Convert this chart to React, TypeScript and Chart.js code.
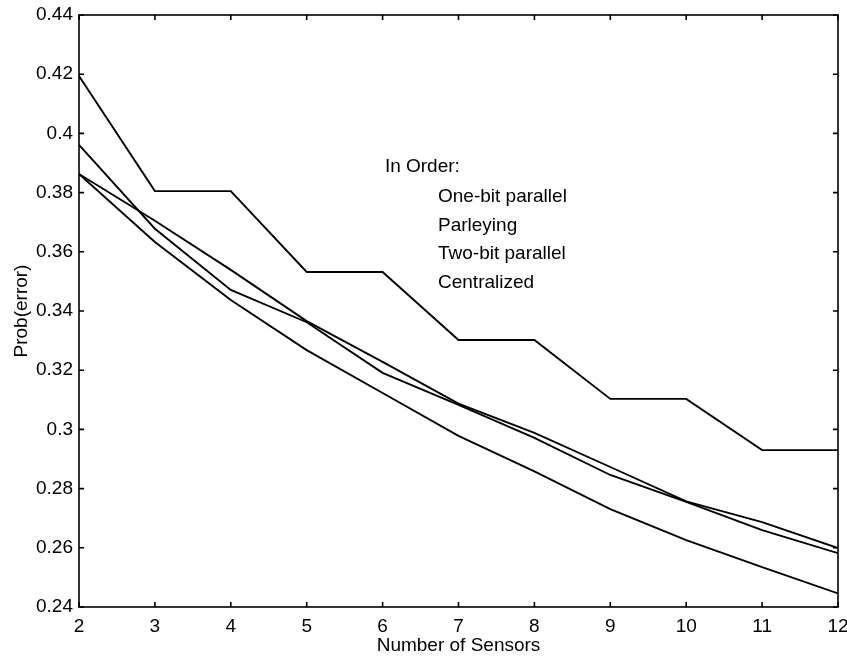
import React, { useEffect, useRef } from "react";
import { Chart, registerables } from "chart.js";

Chart.register(...registerables);

// ---- data ----
const sensors = [2, 3, 4, 5, 6, 7, 8, 9, 10, 11, 12];
const oneBitParallel = [0.4194, 0.3805, 0.3805, 0.3532, 0.3532, 0.3302, 0.3302, 0.3103, 0.3103, 0.293, 0.293];
const parleying = [0.3863, 0.3705, 0.3539, 0.3366, 0.3228, 0.3087, 0.2988, 0.2873, 0.2757, 0.2687, 0.2599];
const twoBitParallel = [0.3961, 0.3678, 0.3471, 0.3362, 0.3191, 0.3083, 0.2971, 0.2846, 0.2755, 0.266, 0.2582];
const centralized = [0.3863, 0.3633, 0.3437, 0.3268, 0.3123, 0.2978, 0.2858, 0.2731, 0.2626, 0.2535, 0.2446];

const seriesNames = ["One-bit parallel", "Parleying", "Two-bit parallel", "Centralized"];
const legendHeading = "In Order:";
const yTickValues = [0.24, 0.26, 0.28, 0.3, 0.32, 0.34, 0.36, 0.38, 0.4, 0.42, 0.44];
const xTickValues = [2, 3, 4, 5, 6, 7, 8, 9, 10, 11, 12];
const xTitle = "Number of Sensors";
const yTitle = "Prob(error)";

const FONT = '"Liberation Sans", Arial, Helvetica, sans-serif';
const FSIZE = 19;

const framePlugin = {
  id: "frameAndNotes",
  afterDraw(chart: any) {
    const { ctx, chartArea } = chart;
    const xs = chart.scales.x;
    const ys = chart.scales.y;
    const { left, right, top, bottom } = chartArea;
    ctx.save();
    ctx.strokeStyle = "#000";
    ctx.lineWidth = 1.6;
    ctx.strokeRect(left, top, right - left, bottom - top);
    const tl = 5;
    ctx.beginPath();
    ys.ticks.forEach((t: any) => {
      const py = ys.getPixelForValue(t.value);
      ctx.moveTo(left, py);
      ctx.lineTo(left + tl, py);
      ctx.moveTo(right, py);
      ctx.lineTo(right - tl, py);
    });
    xs.ticks.forEach((t: any) => {
      const px = xs.getPixelForValue(t.value);
      ctx.moveTo(px, bottom);
      ctx.lineTo(px, bottom - tl);
      ctx.moveTo(px, top);
      ctx.lineTo(px, top + tl);
    });
    ctx.stroke();

    // "In Order" note
    ctx.fillStyle = "#000";
    ctx.font = `${FSIZE}px ${FONT}`;
    ctx.textAlign = "left";
    ctx.textBaseline = "alphabetic";
    const hx = xs.getPixelForValue(6.03);
    const hy = ys.getPixelForValue(0.387);
    ctx.fillText(legendHeading, hx, hy);
    const ix = xs.getPixelForValue(6.73);
    seriesNames.forEach((name, i) => {
      ctx.fillText(name, ix, hy + 30 + i * 28.7);
    });
    ctx.restore();
  },
};

export default function App() {
  const ref = useRef<HTMLCanvasElement | null>(null);

  useEffect(() => {
    if (!ref.current) return;
    const series = [oneBitParallel, parleying, twoBitParallel, centralized];
    const chart = new Chart(ref.current, {
      type: "line",
      data: {
        datasets: series.map((vals, i) => ({
          label: seriesNames[i],
          data: sensors.map((s, j) => ({ x: s, y: vals[j] })),
          borderColor: "#000",
          backgroundColor: "#000",
          borderWidth: 1.9,
          pointRadius: 0,
          tension: 0,
          fill: false,
        })),
      },
      options: {
        responsive: false,
        animation: false,
        layout: { padding: { top: 15, right: 0, left: 0, bottom: 0 } },
        plugins: {
          legend: { display: false },
          tooltip: { enabled: false },
        },
        scales: {
          x: {
            type: "linear",
            min: 2,
            max: 12,
            afterBuildTicks: (scale: any) => {
              scale.ticks = xTickValues.map((v) => ({ value: v }));
            },
            afterFit: (scale: any) => {
              scale.height = 50;
              scale.paddingRight = 9;
              scale.paddingLeft = 0;
            },
            grid: { display: false, drawTicks: false },
            border: { display: false },
            ticks: {
              color: "#000",
              padding: 8,
              maxRotation: 0,
              font: { family: FONT, size: FSIZE },
              callback: (v: any) => String(v),
            },
            title: {
              display: true,
              text: xTitle,
              color: "#000",
              font: { family: FONT, size: FSIZE },
              padding: { top: 0, bottom: 0 },
            },
          },
          y: {
            type: "linear",
            min: 0.24,
            max: 0.44,
            afterBuildTicks: (scale: any) => {
              scale.ticks = yTickValues.map((v) => ({ value: v }));
            },
            afterFit: (scale: any) => {
              scale.width = 79;
              scale.paddingTop = 0;
              scale.paddingBottom = 0;
            },
            grid: { display: false, drawTicks: false },
            border: { display: false },
            ticks: {
              color: "#000",
              padding: 6,
              font: { family: FONT, size: FSIZE },
              callback: (v: any) => String(Number(Number(v).toFixed(2))),
            },
            title: {
              display: true,
              text: yTitle,
              color: "#000",
              font: { family: FONT, size: FSIZE },
              padding: { top: 10, bottom: 0 },
            },
          },
        },
      },
      plugins: [framePlugin],
    });
    return () => chart.destroy();
  }, []);

  return (
    <div style={{ position: "absolute", left: 0, top: 0, width: 847, height: 657, background: "#fff" }}>
      <canvas ref={ref} width={847} height={657} style={{ display: "block" }} />
    </div>
  );
}
